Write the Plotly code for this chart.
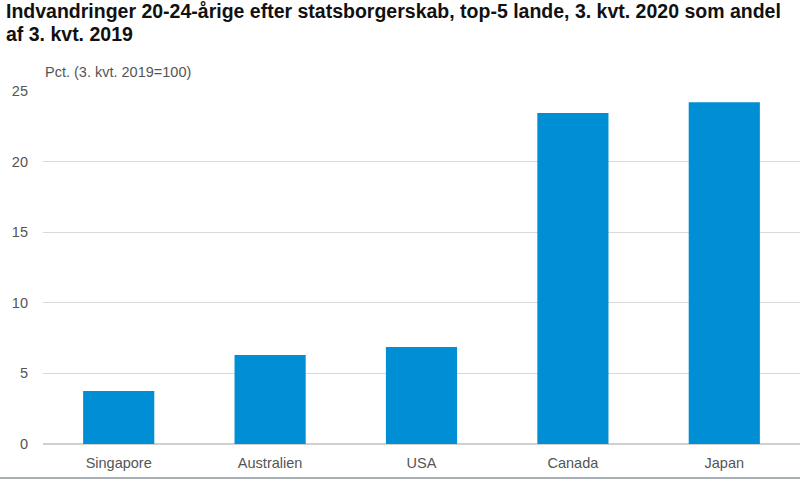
import plotly.graph_objects as go

# ---- DATA ----
lande = ["Singapore", "Australien", "USA", "Canada", "Japan"]
andel = [3.75, 6.3, 6.87, 23.45, 24.2]

titel_linjer = ["Indvandringer 20-24-årige efter statsborgerskab, top-5 lande, 3. kvt. 2020 som andel",
                "af 3. kvt. 2019"]
y_titel = "Pct. (3. kvt. 2019=100)"

tekst = dict(family="Liberation Sans, Arial", size=14.5, color="#555555")

# ---- GRAPH ----
fig = go.Figure(go.Bar(x=lande, y=andel, marker_color="#008FD5",
                       marker_line_width=0, hoverinfo="x+y"))

fig.update_layout(
    width=800, height=482,
    margin=dict(l=43, r=0, t=91, b=38),
    paper_bgcolor="white", plot_bgcolor="white",
    font=tekst,
    bargap=0.53,
    showlegend=False,
)
fig.update_xaxes(showgrid=False, showline=False, ticks="", automargin=False,
                 ticklabelstandoff=8, tickfont=tekst)
fig.update_yaxes(range=[0, 25], dtick=5, showgrid=True, gridcolor="#D9D9D9",
                 gridwidth=1, zeroline=True, zerolinecolor="#D0D0D0",
                 showline=False, ticks="", ticklabelstandoff=14, automargin=False,
                 tickfont=tekst)

# title, one annotation per line (tighter line spacing than plotly's <br>)
for linje, ypos in zip(titel_linjer, [1.2266, 1.1615]):
    fig.add_annotation(text="<b>" + linje + "</b>", xref="paper", yref="paper",
                       x=-0.051, y=ypos, xanchor="left", yanchor="middle",
                       showarrow=False,
                       font=dict(family="Liberation Sans, Arial", size=19.5, color="#111111"))

# y-axis label above the axis
fig.add_annotation(text=y_titel, xref="paper", yref="paper", x=0, y=1.025,
                   xanchor="left", yanchor="bottom", showarrow=False,
                   font=tekst)

# thin line along the bottom
fig.add_shape(type="line", xref="paper", yref="paper", x0=-0.06, x1=1,
              y0=-0.096, y1=-0.096, line=dict(color="#8A9499", width=1.5))

# no page margin, so the chart fills the window
fig.write_html("out.html", config={"displayModeBar": False},
               post_script="document.body.style.margin='0';")
